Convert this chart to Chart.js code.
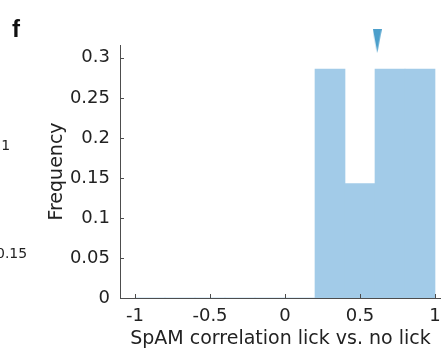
<!DOCTYPE html>
<html>
<head>
<meta charset="utf-8">
<script src="https://cdn.jsdelivr.net/npm/chart.js@4/dist/chart.umd.min.js"></script>
<style>
  html, body { margin: 0; padding: 0; background: #fff; overflow: hidden; }
  #wrap { position: relative; width: 441px; height: 354px; }
  .frag { position: absolute; font-family: "DejaVu Sans", sans-serif; font-size: 14px; line-height: 14px; color: #222; white-space: nowrap; }
  #panel { position: absolute; left: 12px; top: 17px; font: bold 24px/24px "Liberation Sans", Arial, sans-serif; color: #111; }
</style>
</head>
<body>
<div id="wrap">
  <canvas id="chart" width="441" height="354"></canvas>
  <div id="panel">f</div>
  <div class="frag" style="left:-12px; top:138px;">0.1</div>
  <div class="frag" style="left:-4px; top:246px;">0.15</div>
</div>
<script>
// histogram bins (centres) and the frequency in each
const binCenters = [-0.9, -0.7, -0.5, -0.3, -0.1, 0.1, 0.3, 0.5, 0.7, 0.9];
const frequencies = [0, 0, 0, 0, 0, 0, 0.286, 0.143, 0.286, 0.286];

// mean marker (the triangle above the bars)
const markerX = [0.615];
const markerY = [0.321];

const xTickValues = [-1, -0.5, 0, 0.5, 1];
const xTickLabels = ['-1', '-0.5', '0', '0.5', '1'];
const yTickValues = [0, 0.05, 0.1, 0.15, 0.2, 0.25, 0.3];
const yTickLabels = ['0', '0.05', '0.1', '0.15', '0.2', '0.25', '0.3'];

const FONT = '"DejaVu Sans", sans-serif';

// narrow downward triangle for the marker
const tri = document.createElement('canvas');
tri.width = 9;
tri.height = 24;
const tctx = tri.getContext('2d');
tctx.fillStyle = '#4c9fcb';
tctx.beginPath();
tctx.moveTo(0, 0);
tctx.lineTo(9, 0);
tctx.lineTo(4.5, 24);
tctx.closePath();
tctx.fill();

// MATLAB style tick marks pointing into the plot
const innerTicks = {
  id: 'innerTicks',
  afterDatasetsDraw(chart) {
    const ctx = chart.ctx;
    const xs = chart.scales.x, ys = chart.scales.y;
    const area = chart.chartArea;
    ctx.save();
    ctx.strokeStyle = '#4d4d4d';
    ctx.lineWidth = 1;
    ctx.beginPath();
    xTickValues.forEach(v => {
      const px = Math.round(xs.getPixelForValue(v)) + 0.5;
      ctx.moveTo(px, area.bottom);
      ctx.lineTo(px, area.bottom - 4);
    });
    yTickValues.forEach(v => {
      const py = Math.round(ys.getPixelForValue(v)) + 0.5;
      ctx.moveTo(area.left, py);
      ctx.lineTo(area.left + 4, py);
    });
    ctx.stroke();
    ctx.restore();
  }
};

new Chart(document.getElementById('chart'), {
  type: 'bar',
  data: {
    datasets: [
      {
        type: 'bar',
        data: binCenters.map((x, i) => ({ x: x, y: frequencies[i] })),
        backgroundColor: '#a2cbe8',
        borderWidth: 0,
        barPercentage: 1,
        categoryPercentage: 1,
        order: 2,
      },
      {
        type: 'scatter',
        data: markerX.map((x, i) => ({ x: x, y: markerY[i] })),
        pointStyle: tri,
        pointRadius: 6,
        clip: false,
        order: 1,
      },
    ],
  },
  options: {
    responsive: false,
    animation: false,
    events: [],
    layout: { autoPadding: false, padding: { top: 45, left: 0, right: 0, bottom: 0 } },
    plugins: {
      legend: { display: false },
      tooltip: { enabled: false },
    },
    scales: {
      x: {
        type: 'linear',
        offset: false,
        min: -1.1,
        max: 1.04,
        afterBuildTicks: (scale) => {
          scale.ticks = xTickValues.map(v => ({ value: v }));
        },
        afterFit: (scale) => {
          scale.height = 56;
          scale.paddingLeft = 0;
          scale.paddingRight = 0;
        },
        grid: { display: false, drawTicks: false },
        border: { display: true, color: '#4d4d4d', width: 1 },
        ticks: {
          padding: 8,
          color: '#222',
          font: { family: FONT, size: 18 },
          maxRotation: 0,
          callback: (v, i) => xTickLabels[i],
        },
        title: {
          display: true,
          text: 'SpAM correlation lick vs. no lick',
          color: '#222',
          font: { family: FONT, size: 19 },
          padding: { top: 0, bottom: 4 },
        },
      },
      y: {
        min: 0,
        max: 0.316,
        afterBuildTicks: (scale) => {
          scale.ticks = yTickValues.map(v => ({ value: v }));
        },
        afterFit: (scale) => { scale.width = 120; },
        grid: { display: false, drawTicks: false },
        border: { display: true, color: '#4d4d4d', width: 1 },
        ticks: {
          padding: 10,
          color: '#222',
          font: { family: FONT, size: 18 },
          callback: (v, i) => yTickLabels[i],
        },
        title: {
          display: true,
          text: 'Frequency',
          color: '#222',
          font: { family: FONT, size: 19 },
          padding: { top: 46, bottom: 0 },
        },
      },
    },
  },
  plugins: [innerTicks],
});
</script>
</body>
</html>
